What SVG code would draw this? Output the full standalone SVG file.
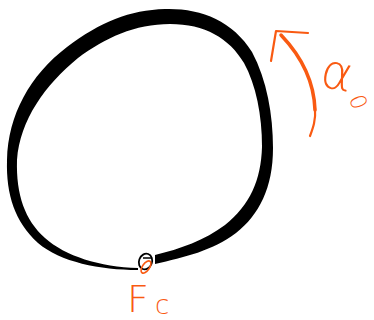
<svg xmlns="http://www.w3.org/2000/svg" width="374" height="320" viewBox="0 0 374 320">
<style>
.lbl{fill:#f95a12;font-family:"DejaVu Sans","Liberation Sans",sans-serif;font-weight:200}
.or{fill:none;stroke:#f95a12;stroke-linecap:round;stroke-linejoin:round}
</style>
<rect width="374" height="320" fill="#ffffff"/>
<g id="loop">
<path fill="#000" d="M138,270 C100,270 60,262 38,243 C15,222 6,195 7,160 C8,115 30,75 67,47 C100,22 130,10 165,9 C200,8 232,20 252,52 C267,80 273,115 273,148 C273,188 259,215 236,233 C212,251 185,257 155,264 L155,255 C180,249 205,240 225,225 C250,205 261,180 262,147 C262,115 256,85 244,63 C229,38 205,24 170,24 C135,24 105,38 78,58 C45,85 20,120 17,160 C16,195 25,220 45,238 C65,256 100,267 138,268 Z"/>
</g>
<g id="knot">
<ellipse cx="145.5" cy="261.5" rx="6.5" ry="8" transform="rotate(20 145.5 261.5)" fill="#fff" stroke="#000" stroke-width="1.8"/>
<path d="M143,258 L152,258" stroke="#000" stroke-width="1.5"/>
<ellipse cx="146" cy="267" rx="3.5" ry="7" transform="rotate(35 146 267)" class="or" stroke-width="1.6"/>
</g>
<g id="connectors">
<path class="or" stroke-width="3.5" d="M281,35 C300,55 314,80 315,110"/>
<path class="or" stroke-width="2.2" d="M315,108 C316,120 313,128 310,136"/>
<path class="or" stroke-width="2.2" d="M271,61 L276,31 L308,33"/>
</g>
<g id="label-alpha">
<text class="lbl" x="321" y="90" font-size="48" transform="rotate(12 340 75)">α</text>
<text class="lbl" x="350" y="110" font-size="22" transform="rotate(70 358 103)">0</text>
</g>
<g id="label-fc">
<text class="lbl" x="127" y="312" font-size="38">F</text>
<text class="lbl" x="155" y="314" font-size="26">c</text>
</g>
</svg>
